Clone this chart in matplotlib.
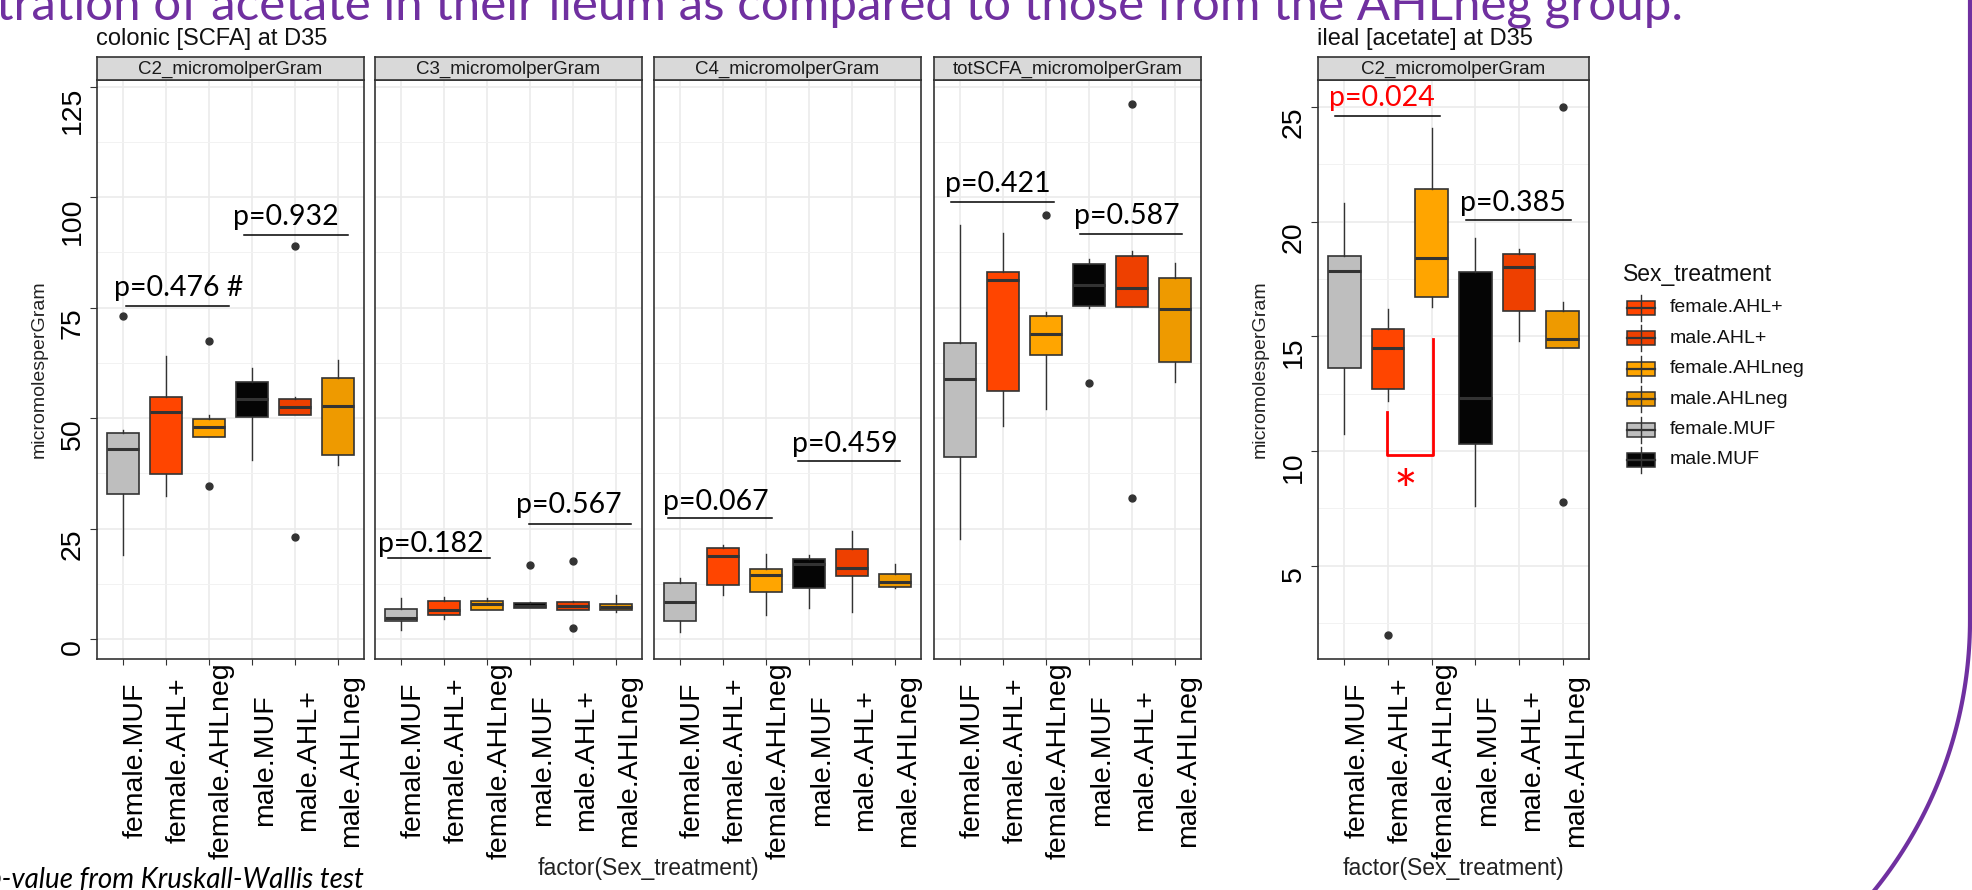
import numpy as np
import matplotlib.pyplot as plt
from matplotlib.patches import Rectangle
from matplotlib.ticker import MultipleLocator

plt.rcParams['font.family'] = ['Liberation Sans', 'DejaVu Sans']

groups = ["female.MUF", "female.AHL+", "female.AHLneg", "male.MUF", "male.AHL+", "male.AHLneg"]
group_colors = ["#BEBEBE", "#FF4500", "#FFA500", "#050505", "#EE4000", "#EE9A00"]
legend_order = ["female.AHL+", "male.AHL+", "female.AHLneg", "male.AHLneg", "female.MUF", "male.MUF"]

# colonic C2
c2_q1 = [32.8, 37.3, 45.7, 50.2, 50.8, 41.6]
c2_med = [43.0, 51.4, 47.9, 54.4, 52.6, 52.8]
c2_q3 = [46.7, 54.8, 49.8, 58.2, 54.3, 59.1]
c2_lo = [19.0, 32.3, 45.7, 40.6, 50.8, 39.4]
c2_hi = [47.4, 64.0, 50.7, 61.4, 54.7, 63.1]
c2_out = [[73.0], [], [67.5, 34.6], [], [89.0, 23.1], []]

# colonic C3
c3_q1 = [4.0, 5.4, 6.5, 7.0, 6.6, 6.5]
c3_med = [4.8, 6.6, 7.9, 7.6, 7.4, 7.2]
c3_q3 = [6.8, 8.6, 8.6, 8.1, 8.3, 7.9]
c3_lo = [2.1, 4.5, 6.5, 7.0, 6.6, 6.2]
c3_hi = [9.2, 9.6, 9.2, 8.3, 8.6, 9.9]
c3_out = [[], [], [], [16.8], [17.6, 2.6], []]

# colonic C4
c4_q1 = [4.0, 12.2, 10.7, 11.5, 14.3, 11.9]
c4_med = [8.4, 18.7, 14.4, 16.9, 16.1, 12.9]
c4_q3 = [12.8, 20.6, 15.8, 18.2, 20.3, 14.7]
c4_lo = [1.6, 9.9, 5.4, 7.0, 6.1, 11.5]
c4_hi = [13.8, 21.2, 19.2, 19.1, 24.4, 17.1]
c4_out = [[], [], [], [], [], []]

# colonic total SCFA
tot_q1 = [41.2, 56.1, 64.2, 75.4, 75.1, 62.7]
tot_med = [58.9, 81.3, 69.0, 80.2, 79.5, 74.6]
tot_q3 = [66.9, 83.0, 73.0, 84.8, 86.6, 81.7]
tot_lo = [22.7, 48.3, 52.1, 74.9, 75.1, 58.1]
tot_hi = [93.6, 91.9, 73.9, 85.9, 87.9, 85.2]
tot_out = [[], [], [96.0], [57.9], [121.0, 31.9], []]

# ileal C2
il_q1 = [13.6, 12.7, 16.7, 10.3, 16.1, 14.5]
il_med = [17.85, 14.5, 18.4, 12.3, 18.0, 14.9]
il_q3 = [18.5, 15.3, 21.4, 17.8, 18.6, 16.1]
il_lo = [10.76, 12.2, 16.3, 7.6, 14.8, 14.5]
il_hi = [20.8, 16.2, 24.1, 19.3, 18.8, 16.5]
il_out = [[], [2.0], [], [], [], [25.0, 7.8]]

# Kruskal-Wallis labels: text, text x/baseline, bar x0/x1/y
c2_ptext = ["p=0.476 #", "p=0.932"]
c2_ptx, c2_pty = [0.79, 3.56], [77.6, 93.7]
c2_bx0, c2_bx1, c2_by = [1.08, 3.82], [3.47, 6.24], [75.4, 91.4]
c3_ptext = ["p=0.182", "p=0.567"]
c3_ptx, c3_pty = [0.48, 3.68], [19.7, 28.6]
c3_bx0, c3_bx1, c3_by = [0.71, 3.97], [3.08, 6.34], [18.4, 26.0]
c4_ptext = ["p=0.067", "p=0.459"]
c4_ptx, c4_pty = [0.61, 3.61], [29.1, 42.4]
c4_bx0, c4_bx1, c4_by = [0.73, 3.74], [3.13, 6.11], [27.5, 40.4]
tot_ptext = ["p=0.421", "p=0.587"]
tot_ptx, tot_pty = [0.66, 3.64], [101.1, 94.0]
tot_bx0, tot_bx1, tot_by = [0.79, 3.78], [3.19, 6.17], [98.8, 91.7]
il_ptext = ["p=0.024", "p=0.385"]
il_pcolor = ["#FF0000", "black"]
il_ptx, il_pty = [0.66, 3.66], [25.05, 20.45]
il_bx0, il_bx1, il_by = [0.79, 3.79], [3.18, 6.18], [24.6, 20.05]

# pairwise bracket female.AHL+ vs female.AHLneg
sig_x = [1.97, 1.97, 3.02, 3.02]
sig_y = [11.7, 9.85, 9.85, 14.9]

W, H = 1972, 890
fig = plt.figure(figsize=(W / 100, H / 100), dpi=100)
fig.patch.set_facecolor('white')

PTOP, PBOT, STOP = 80, 659, 57


def frac(x0, x1, y0, y1):
    return [x0 / W, 1 - y1 / H, (x1 - x0) / W, (y1 - y0) / H]


def panel(x0, x1, title, q1, med, q3, lo, hi, out, ylim, ymaj, first):
    ax = fig.add_axes(frac(x0, x1, PTOP, PBOT))
    stats = [dict(q1=q1[i], med=med[i], q3=q3[i], whislo=lo[i], whishi=hi[i],
                  fliers=out[i]) for i in range(6)]
    bp = ax.bxp(stats, positions=range(1, 7), widths=0.75, patch_artist=True,
                showcaps=False,
                boxprops=dict(edgecolor='#333333', linewidth=1.2),
                whiskerprops=dict(color='#333333', linewidth=1.0),
                medianprops=dict(color='#333333', linewidth=2.2),
                flierprops=dict(marker='o', markerfacecolor='#333333',
                                markeredgecolor='#333333', markersize=5))
    for b, c in zip(bp['boxes'], group_colors):
        b.set_facecolor(c)
    ax.set_xlim(0.4, 6.6)
    ax.set_ylim(*ylim)
    ax.yaxis.set_major_locator(MultipleLocator(ymaj))
    ax.yaxis.set_minor_locator(MultipleLocator(ymaj / 2))
    ax.set_axisbelow(True)
    ax.grid(which='major', color='#EBEBEB', lw=1.2)
    ax.grid(which='minor', axis='y', color='#F2F2F2', lw=0.7)
    for s in ax.spines.values():
        s.set_color('#333333')
        s.set_linewidth(1.2)
    ax.set_xticks(range(1, 7))
    ax.set_xticklabels(groups, rotation=90, ha='left', va='center', fontsize=20.5)
    ax.tick_params(axis='x', length=4, color='#333333', pad=69)
    ax.tick_params(which='minor', length=0)
    if first:
        ax.tick_params(axis='y', length=5, color='#333333', pad=3, labelsize=20.5)
        for t in ax.get_yticklabels():
            t.set_rotation(90)
            t.set_va('top')
    else:
        ax.tick_params(axis='y', left=False, labelleft=False)
    # facet strip
    st = fig.add_axes(frac(x0, x1, STOP, PTOP))
    st.set_facecolor('#D9D9D9')
    st.set_xticks([])
    st.set_yticks([])
    for s in st.spines.values():
        s.set_color('#333333')
        s.set_linewidth(1.2)
    st.text(0.5, 0.45, title, ha='center', va='center', fontsize=13.5, color='#1A1A1A',
            transform=st.transAxes)
    return ax


def pvals(ax, texts, tx, ty, bx0, bx1, by, colors=None):
    for i, t in enumerate(texts):
        c = colors[i] if colors else 'black'
        ax.text(tx[i], ty[i], t, fontsize=20.5, family='Lato', color=c, va='baseline')
        ax.plot([bx0[i], bx1[i]], [by[i], by[i]], color='black', lw=1.1)


col_lim = (-4.5, 126.5)
a1 = panel(97, 364, "C2_micromolperGram", c2_q1, c2_med, c2_q3, c2_lo, c2_hi, c2_out, col_lim, 25, True)
pvals(a1, c2_ptext, c2_ptx, c2_pty, c2_bx0, c2_bx1, c2_by)
a2 = panel(375, 642, "C3_micromolperGram", c3_q1, c3_med, c3_q3, c3_lo, c3_hi, c3_out, col_lim, 25, False)
pvals(a2, c3_ptext, c3_ptx, c3_pty, c3_bx0, c3_bx1, c3_by)
a3 = panel(654, 921, "C4_micromolperGram", c4_q1, c4_med, c4_q3, c4_lo, c4_hi, c4_out, col_lim, 25, False)
pvals(a3, c4_ptext, c4_ptx, c4_pty, c4_bx0, c4_bx1, c4_by)
a4 = panel(934, 1201, "totSCFA_micromolperGram", tot_q1, tot_med, tot_q3, tot_lo, tot_hi, tot_out, col_lim, 25, False)
pvals(a4, tot_ptext, tot_ptx, tot_pty, tot_bx0, tot_bx1, tot_by)
a5 = panel(1318, 1589, "C2_micromolperGram", il_q1, il_med, il_q3, il_lo, il_hi, il_out, (0.94, 26.17), 5, True)
pvals(a5, il_ptext, il_ptx, il_pty, il_bx0, il_bx1, il_by, il_pcolor)
a5.plot(sig_x, sig_y, color='#FF0000', lw=2)
a5.text(2.41, 8.1, "*", color='#FF0000', fontsize=40, family='Lato', ha='center', va='center')

# overlay in pixel units for titles, legend and slide decoration
ov = fig.add_axes([0, 0, 1, 1], zorder=-1)
ov.set_xlim(0, W)
ov.set_ylim(H, 0)
ov.axis('off')

ov.text(-4, 19, "tration of acetate in their ileum as compared to those from the AHLneg group.",
        family='Lato', fontsize=35.5, color='#7030A0', va='baseline')
ov.text(96, 45, "colonic [SCFA] at D35", fontsize=17, va='baseline', color='#111111')
ov.text(1317, 45, "ileal [acetate] at D35", fontsize=17, va='baseline', color='#111111')
ov.text(39, 369, "micromolesperGram", fontsize=14, rotation=90, ha='center', va='center', color='#222222')
ov.text(1260, 369, "micromolesperGram", fontsize=14, rotation=90, ha='center', va='center', color='#222222')
ov.text(648, 868, "factor(Sex_treatment)", fontsize=16.5, ha='center', va='center', color='#222222')
ov.text(1453, 868, "factor(Sex_treatment)", fontsize=16.5, ha='center', va='center', color='#222222')
ov.text(364, 888, "p-value from Kruskall-Wallis test", family='Lato', style='italic',
        fontsize=20, ha='right', va='baseline', color='black')

# legend
ov.text(1623, 275, "Sex_treatment", fontsize=16.5, va='center', color='#111111')
for i, name in enumerate(legend_order):
    yc = 308 + 30.4 * i
    c = group_colors[groups.index(name)]
    ov.plot([1641, 1641], [yc - 13, yc + 13], color='#333333', lw=1)
    ov.add_patch(Rectangle((1627, yc - 7), 28, 14, facecolor=c, edgecolor='#333333', lw=1.1))
    ov.plot([1627, 1655], [yc, yc], color='#333333', lw=1.6)
    ov.text(1670, yc, name, fontsize=14, va='center', color='#111111')

# rounded slide frame at the right edge
t = np.linspace(0, np.pi / 2, 120)
fx = np.concatenate([[1970, 1970], 1540 + 430 * np.cos(t)])
fy = np.concatenate([[-5, 620], 620 + 430 * np.sin(t)])
ov.plot(fx, fy, color='#7030A0', lw=3)

fig.savefig("out.png", dpi=100)
